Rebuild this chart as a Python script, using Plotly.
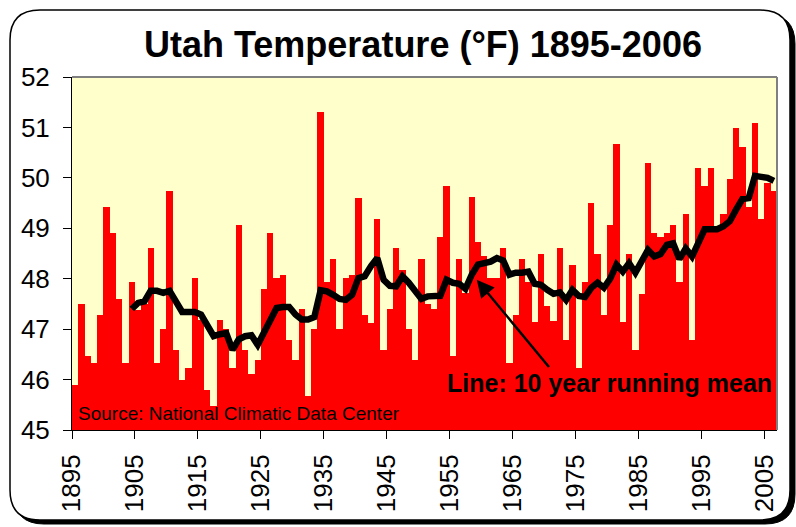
import plotly.graph_objects as go

# ---------------- data ----------------
years = list(range(1895, 2007))
temps = [45.90, 47.49, 46.47, 46.32, 47.29, 49.42, 48.91, 47.60, 46.32, 47.93,
         47.38, 47.50, 48.60, 46.32, 47.01, 49.73, 46.59, 46.00, 46.22, 48.02,
         47.18, 45.80, 45.47, 47.18, 47.01, 46.22, 49.07, 46.59, 46.12, 46.38,
         47.80, 48.91, 48.02, 48.08, 46.79, 46.38, 47.39, 45.68, 47.01, 51.31,
         47.93, 48.40, 47.01, 48.02, 48.08, 49.61, 47.29, 47.12, 49.19, 46.59,
         47.39, 48.60, 48.18, 47.01, 46.38, 48.40, 47.49, 47.40, 48.82, 49.83,
         46.47, 48.40, 47.72, 49.62, 48.72, 48.45, 48.02, 48.02, 48.60, 46.32,
         47.29, 48.40, 47.93, 47.14, 48.50, 47.45, 47.17, 48.60, 46.79, 48.28,
         46.22, 47.93, 49.51, 48.50, 47.29, 49.07, 50.68, 47.14, 48.50, 46.59,
         47.70, 50.30, 48.91, 48.82, 48.91, 49.07, 47.93, 49.29, 46.79, 50.20,
         49.83, 50.20, 49.00, 49.29, 49.98, 50.99, 50.62, 49.42, 51.09, 49.19,
         49.90, 49.73]

mean_years = list(range(1904, 2007))
running_mean = [47.40, 47.52, 47.55, 47.76, 47.76, 47.72, 47.76, 47.55, 47.34, 47.34,
                47.34, 47.29, 47.05, 46.86, 46.90, 46.92, 46.59, 46.80, 46.86, 46.88,
                46.69, 46.92, 47.20, 47.42, 47.44, 47.44, 47.29, 47.19, 47.19, 47.24,
                47.77, 47.75, 47.68, 47.60, 47.58, 47.68, 48.01, 48.05, 48.25, 48.41,
                47.98, 47.86, 47.85, 48.05, 47.92, 47.75, 47.60, 47.65, 47.65, 47.66,
                47.98, 47.92, 47.90, 47.80, 48.08, 48.28, 48.31, 48.34, 48.41, 48.36,
                48.08, 48.12, 48.12, 48.14, 47.90, 47.88, 47.78, 47.70, 47.73, 47.58,
                47.78, 47.66, 47.64, 47.82, 47.92, 47.82, 48.00, 48.28, 48.14, 48.31,
                48.12, 48.34, 48.57, 48.44, 48.49, 48.67, 48.70, 48.39, 48.60, 48.44,
                48.70, 48.98, 48.98, 48.98, 49.04, 49.14, 49.37, 49.58, 49.60, 50.04,
                50.02, 50.00, 49.94]

tick_years = list(range(1895, 2006, 10))
tick_labels = [str(y) for y in tick_years]

# ---------------- figure ----------------
W, H = 796, 527
L, R, T, B = 72, 777, 77, 430


def px(x):
    return (x - L) / (R - L)


def py(y):
    return (B - y) / (B - T)


def rounded_path(x0, y0, x1, y1, r):
    a, b, c, d = px(x0), px(x1), py(y0), py(y1)
    rx = r / (R - L)
    ry = r / (B - T)
    return (f"M {a+rx},{c} L {b-rx},{c} Q {b},{c} {b},{c-ry} "
            f"L {b},{d+ry} Q {b},{d} {b-rx},{d} "
            f"L {a+rx},{d} Q {a},{d} {a},{d+ry} "
            f"L {a},{c-ry} Q {a},{c} {a+rx},{c} Z")


fig = go.Figure()
fig.add_trace(go.Bar(x=[y + 0.5 for y in years], y=temps, width=1.0,
                     marker=dict(color="#FF0000", line=dict(width=0)),
                     showlegend=False))
fig.add_trace(go.Scatter(x=[y + 0.5 for y in mean_years], y=running_mean,
                         mode="lines", line=dict(color="black", width=6.5),
                         showlegend=False))

FONT = "Liberation Sans, Arial, sans-serif"

shapes = [
    dict(type="path", xref="paper", yref="paper", layer="below",
         path=rounded_path(14, 14, 795, 524, 30), fillcolor="black",
         line=dict(color="black", width=1)),
    dict(type="path", xref="paper", yref="paper", layer="below",
         path=rounded_path(10, 10, 790, 520, 30), fillcolor="white",
         line=dict(color="black", width=1.5)),
    dict(type="rect", xref="paper", yref="paper", layer="below",
         x0=0, x1=1, y0=0, y1=1, fillcolor="#FFFFCC", line=dict(width=0)),
    dict(type="line", xref="paper", yref="paper", x0=0, x1=1, y0=1, y1=1,
         line=dict(color="#808080", width=2)),
    dict(type="line", xref="paper", yref="paper", x0=1, x1=1, y0=0, y1=1,
         line=dict(color="#808080", width=2)),
]

annotations = [
    dict(text="<b>Utah Temperature (°F) 1895-2006</b>", xref="paper", yref="paper",
         x=px(423), y=py(45), xanchor="center", yanchor="middle", showarrow=False,
         font=dict(family=FONT, size=36, color="black")),
    dict(text="Source: National Climatic Data Center", xref="paper", yref="paper",
         x=px(76), y=py(413), xanchor="left", yanchor="middle", showarrow=False,
         font=dict(family=FONT, size=19, color="black")),
    dict(text="<b>Line: 10 year running mean</b>", xref="paper", yref="paper",
         x=px(609), y=py(383), xanchor="center", yanchor="middle", showarrow=False,
         font=dict(family=FONT, size=25, color="black")),
    dict(text="", x=1959.3, y=47.98, ax=1970.97, ay=46.22, axref="x", ayref="y",
         xref="x", yref="y", showarrow=True, arrowhead=2, arrowsize=1.4,
         arrowwidth=2.5, arrowcolor="black"),
]

fig.update_layout(
    width=W, height=H,
    margin=dict(l=L, r=W - R, t=T, b=H - B, pad=0),
    paper_bgcolor="white",
    plot_bgcolor="rgba(0,0,0,0)",
    bargap=0,
    shapes=shapes,
    annotations=annotations,
    xaxis=dict(range=[1895, 2007], tickmode="array", tickvals=tick_years,
               ticktext=tick_labels, tickangle=-90, ticks="outside", ticklen=8,
               tickcolor="black", tickwidth=1, showline=True, linecolor="black",
               linewidth=1, showgrid=False, zeroline=False, ticklabelstandoff=5,
               automargin=False,
               tickfont=dict(family=FONT, size=26, color="black")),
    yaxis=dict(range=[45, 52], dtick=1, ticks="outside", ticklen=8,
               tickcolor="black", tickwidth=1, showline=True, linecolor="black",
               linewidth=1, showgrid=False, zeroline=False, ticklabelstandoff=8,
               automargin=False,
               tickfont=dict(family=FONT, size=26, color="black")),
)

fig.write_html("out.html", config={"displayModeBar": False},
               post_script="document.body.style.margin='0';document.body.style.overflow='hidden';")
